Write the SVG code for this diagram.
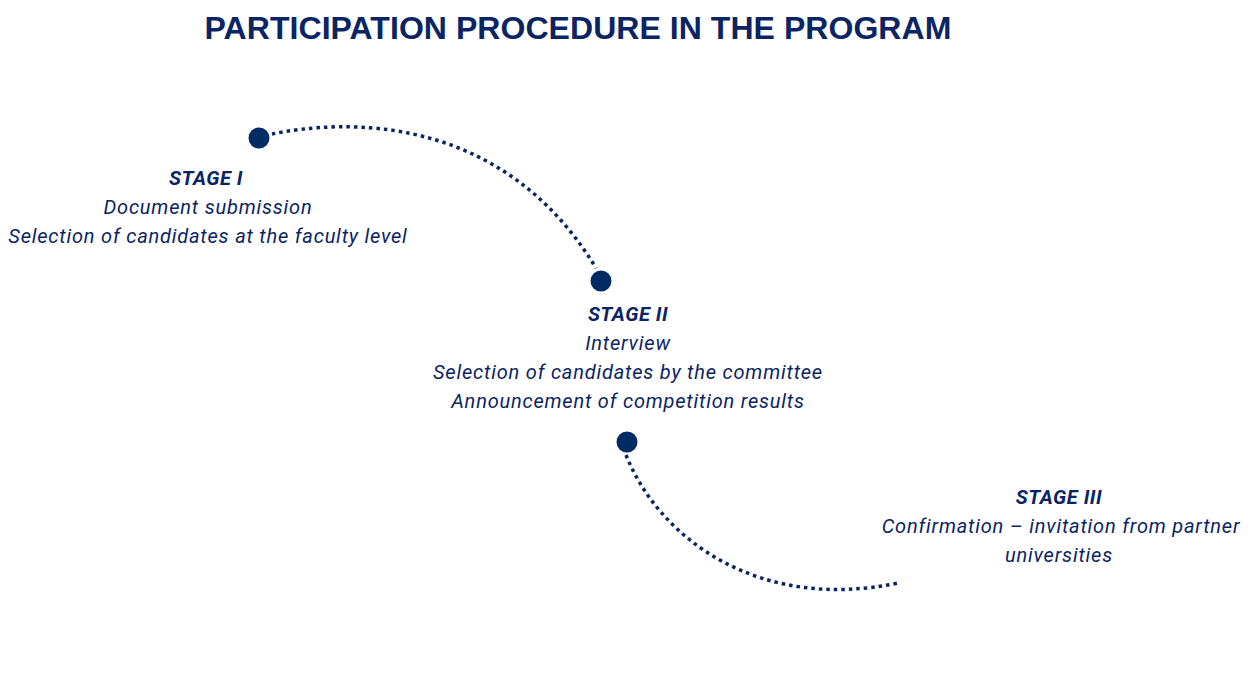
<svg xmlns="http://www.w3.org/2000/svg" width="1259" height="689" viewBox="0 0 1259 689">
<style>
.title{font-family:"Liberation Sans",Arial,sans-serif;font-weight:700;font-size:32px;fill:#0b2463;letter-spacing:0.05px}
.h{font-family:Roboto,"Liberation Sans",sans-serif;font-weight:700;font-style:italic;font-size:20px;fill:#0b2463;text-anchor:middle;letter-spacing:0.5px}
.t{font-family:Roboto,"Liberation Sans",sans-serif;font-style:italic;font-size:20px;fill:#0b2463;text-anchor:middle;letter-spacing:0.8px}
.dot{fill:#002c66}
.conn{fill:none;stroke:#0b2463;stroke-width:3.5;stroke-dasharray:3.5 4}
</style>
<rect width="1259" height="689" fill="#ffffff"/>
<text class="title" x="578" y="39" text-anchor="middle">PARTICIPATION PROCEDURE IN THE PROGRAM</text>
<g id="connectors">
<path class="conn" d="M272,134 C340,120 500,110 596,268"/>
<path class="conn" d="M626,455 C660,540 760,612 898,583"/>
</g>
<g id="stage1">
<circle class="dot" cx="259" cy="138" r="10.5"/>
<text class="h" x="206" y="185">STAGE I</text>
<text class="t" x="208" y="214">Document submission</text>
<text class="t" x="208" y="243">Selection of candidates at the faculty level</text>
</g>
<g id="stage2">
<circle class="dot" cx="601" cy="281" r="10.5"/>
<text class="h" x="628" y="321">STAGE II</text>
<text class="t" x="628" y="350">Interview</text>
<text class="t" x="628" y="379">Selection of candidates by the committee</text>
<text class="t" x="628" y="408">Announcement of competition results</text>
</g>
<g id="stage3">
<circle class="dot" cx="627" cy="442" r="10.5"/>
<text class="h" x="1059" y="504">STAGE III</text>
<text class="t" x="1061" y="533">Confirmation – invitation from partner</text>
<text class="t" x="1059" y="562">universities</text>
</g>
</svg>
